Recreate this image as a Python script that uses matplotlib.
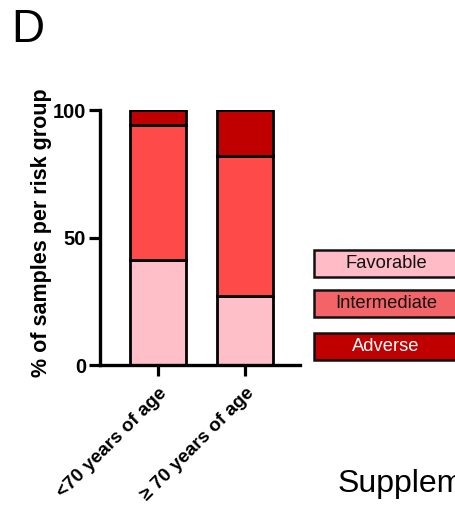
import matplotlib
matplotlib.use("Agg")
import matplotlib.pyplot as plt
from matplotlib.patches import Rectangle

plt.rcParams['font.family'] = ['Liberation Sans', 'DejaVu Sans']

groups = ['<70 years of age', '\u2265 70 years of age']
risk = ['Favorable', 'Intermediate', 'Adverse']
favorable = [41, 27]
intermediate = [53, 55]
adverse = [6, 18]

bar_colors = ['#FFBFC8', '#FF4A4A', '#C00000']
legend_colors = ['#FFBCC6', '#F26468', '#C00000']
legend_text = ['#111111', '#111111', 'white']

fig = plt.figure(figsize=(4.56, 5.11), dpi=100)
ax = fig.add_axes([100 / 456, 146 / 511, 200 / 456, 255 / 511])

x = [0, 1]
bottom = [0, 0]
for vals, c in zip([favorable, intermediate, adverse], bar_colors):
    ax.bar(x, vals, width=0.64, bottom=bottom, color=c, edgecolor='black', linewidth=2.0)
    bottom = [b + v for b, v in zip(bottom, vals)]

ax.set_xlim(-0.667, 1.63)
ax.set_ylim(0, 100)
ax.set_yticks([0, 50, 100])
ax.set_xticks(x)
ax.set_xticklabels(groups, rotation=45, ha='right', va='top', rotation_mode='anchor',
                   fontsize=13.6, fontweight='bold')
for lab in ax.get_yticklabels():
    lab.set_fontsize(14.5)
    lab.set_fontweight('bold')
ax.tick_params(axis='both', width=2.3, length=8, direction='out')
ax.tick_params(axis='x', pad=6)
ax.tick_params(axis='y', pad=2)
for s in ['top', 'right']:
    ax.spines[s].set_visible(False)
for s in ['left', 'bottom']:
    ax.spines[s].set_linewidth(2.4)
ax.set_ylabel('% of samples per risk group', fontsize=15.5, fontweight='bold')
ax.yaxis.set_label_coords(-0.24, 0.52)

# legend boxes drawn on the figure (run off the right edge)
box_tops = [250, 290, 333]
box_h = 27
for name, c, tc, top in zip(risk, legend_colors, legend_text, box_tops):
    y0 = 1 - (top + box_h) / 511
    fig.patches.append(Rectangle((314 / 456, y0), 0.4, box_h / 511, transform=fig.transFigure,
                                 facecolor=c, edgecolor='#111111', linewidth=1.8))
    fig.text(386 / 456, y0 + box_h / 511 / 2, name, color=tc, fontsize=13.2,
             ha='center', va='center')

fig.text(11 / 456, 1 - 30 / 511, 'D', fontsize=33, va='center', ha='left')
fig.text(338 / 456, 1 - 484 / 511, 'Supplementary', fontsize=23, va='center', ha='left')

fig.savefig('out.png', dpi=100)
